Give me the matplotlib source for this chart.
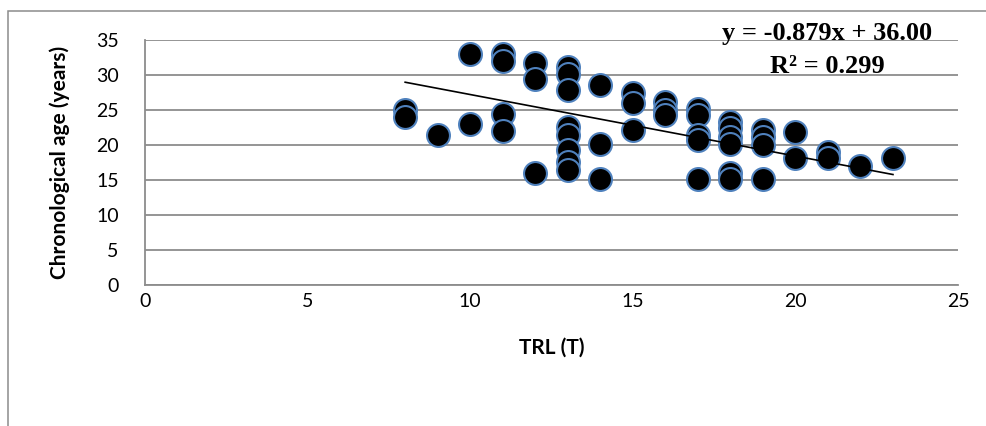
import numpy as np
import matplotlib
matplotlib.use('Agg')
import matplotlib.pyplot as plt
from matplotlib.patches import Rectangle

# TRL (T) values and chronological age (years)
trl = [8, 8, 9, 10, 10, 11, 11, 11, 11, 12, 12, 12,
       13, 13, 13, 13, 13, 13, 13, 13, 14, 14, 14, 15, 15, 15,
       16, 16, 16, 17, 17, 17, 17, 17, 18, 18, 18, 18, 18, 18,
       19, 19, 19, 19, 20, 20, 21, 21, 22, 23]
age = [25, 24, 21.4, 33, 23, 33, 32, 24.5, 22, 31.7, 29.5, 16,
       31.2, 30.2, 27.9, 22.6, 21.4, 19.3, 17.6, 16.4, 28.6, 20.2, 15.1, 27.4, 26, 22.1,
       26.2, 25, 24.3, 25.2, 24.3, 21.4, 20.7, 15.1, 23.3, 22.4, 21.2, 20.2, 16, 15.2,
       22.1, 21.2, 20, 15.2, 21.9, 18.1, 19, 18.1, 17, 18.1]

# linear trend as printed on the chart
slope = -0.879
intercept = 36.00
r2 = 0.299

xticks = [0, 5, 10, 15, 20, 25]
yticks = [0, 5, 10, 15, 20, 25, 30, 35]

grey = '#8c8c8c'
W, H = 987, 426
fig = plt.figure(figsize=(W / 100, H / 100), dpi=100)
fig.patches.append(Rectangle((8 / W, -0.1), 1.2, 1 - 11 / H + 0.1, transform=fig.transFigure,
                             fill=False, edgecolor=grey, linewidth=1.1))

ax = fig.add_axes([145 / W, 1 - 285 / H, 813 / W, 245 / H])
ax.set_xlim(0, 25)
ax.set_ylim(0, 35)
ax.set_xticks(xticks)
ax.set_yticks(yticks)
ax.yaxis.grid(True, color=grey, linewidth=1.3)
ax.set_axisbelow(True)
for s in ['top', 'right']:
    ax.spines[s].set_visible(False)
ax.spines['left'].set_color(grey)
ax.spines['bottom'].set_color(grey)
ax.spines['left'].set_linewidth(1.3)
ax.spines['bottom'].set_linewidth(1.3)
ax.tick_params(axis='both', length=0, labelsize=14)
ax.tick_params(axis='y', pad=19)
ax.tick_params(axis='x', pad=6)
for lab in ax.get_xticklabels() + ax.get_yticklabels():
    lab.set_family('Lato')

ax.plot(trl, age, 'o', markersize=16.5, markerfacecolor='black',
        markeredgecolor='#4f81bd', markeredgewidth=1.5, clip_on=False, zorder=3)

xs = np.array([min(trl), max(trl)])
ax.plot(xs, slope * xs + intercept, color='black', linewidth=1.2, zorder=4)

ax.set_xlabel('TRL (T)', fontsize=15, fontweight='bold', family='Lato', va='center')
ax.xaxis.set_label_coords(0.5, -0.257)
ax.set_ylabel('Chronological age (years)', fontsize=15, fontweight='bold', family='Lato', va='center')
ax.yaxis.set_label_coords(-0.1046, 0.5)

fig.text(827 / W, 1 - 40 / H, f'y = {slope}x + {intercept:.2f}', ha='center', va='baseline',
         fontsize=19, fontweight='bold', family='Liberation Serif')
fig.text(827 / W, 1 - 73 / H, f'R² = {r2}', ha='center', va='baseline',
         fontsize=19, fontweight='bold', family='Liberation Serif')

fig.savefig('out.png', dpi=100)
